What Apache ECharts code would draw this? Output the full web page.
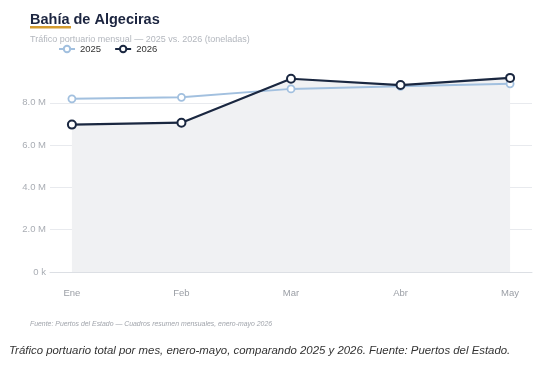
<!DOCTYPE html>
<html>
<head>
<meta charset="utf-8">
<script src="https://cdn.jsdelivr.net/npm/echarts@6/dist/echarts.min.js"></script>
<style>
  html, body { margin: 0; padding: 0; background: #fff; }
  #chart { width: 557px; height: 365px; }
</style>
</head>
<body>
<div id="chart"></div>
<script>
// monthly port traffic, tonnes
const months = ['Ene', 'Feb', 'Mar', 'Abr', 'May'];
const traffic2025 = [8.19e6, 8.26e6, 8.66e6, 8.78e6, 8.9e6];
const traffic2026 = [6.97e6, 7.06e6, 9.14e6, 8.84e6, 9.18e6];

const font = '"Liberation Sans", Arial, sans-serif';

// x axis as value axis so the points sit inset from the grid edges
const toPoints = (arr) => arr.map((v, i) => [i, v]);

const chart = echarts.init(document.getElementById('chart'), null, { renderer: 'canvas' });

const option = {
  animation: false,
  textStyle: { fontFamily: font },
  title: {
    text: 'Bahía de Algeciras',
    subtext: 'Tráfico portuario mensual — 2025 vs. 2026 (toneladas)',
    left: 25,
    top: 7,
    itemGap: 8,
    textStyle: { fontSize: 14.5, fontWeight: 'bold', color: '#1c2540', fontFamily: font },
    subtextStyle: { fontSize: 9, color: '#b3b7be', fontFamily: font },
  },
  legend: {
    left: 53,
    top: 39,
    itemWidth: 16,
    itemHeight: 8,
    itemGap: 13,
    textStyle: { fontSize: 9.5, color: '#333', fontFamily: font },
    data: ['2025', '2026'],
  },
  grid: { left: 50, right: 25, top: 69, bottom: 93 },
  xAxis: {
    type: 'value',
    min: -0.2,
    max: 4.2,
    offset: 10,
    axisLine: { show: true, lineStyle: { color: '#dcdfe4', width: 1 } },
    axisTick: { show: false },
    splitLine: { show: false },
    axisLabel: {
      color: '#9a9ea5',
      fontSize: 9.5,
      margin: 6,
      customValues: [0, 1, 2, 3, 4],
      formatter: (v) => months[Math.round(v)] || '',
    },
  },
  yAxis: {
    type: 'value',
    min: 0,
    max: 9.6e6,
    interval: 2e6,
    axisLine: { show: false },
    axisTick: { show: false },
    splitLine: { showMaxLine: false, lineStyle: { color: '#e8eaee', width: 1 } },
    axisLabel: {
      color: '#a9adb4',
      fontSize: 9.5,
      margin: 4,
      showMaxLabel: false,
      formatter: (v) => (v === 0 ? '0 k' : (v / 1e6).toFixed(1) + ' M'),
    },
  },
  series: [
    {
      // grey fill under the 2026 line, kept below both lines
      name: 'area2026',
      type: 'line',
      data: toPoints(traffic2026),
      symbol: 'none',
      lineStyle: { width: 0, opacity: 0 },
      areaStyle: { color: '#f0f1f3', opacity: 1 },
      silent: true,
      z: 1,
    },
    {
      name: '2025',
      type: 'line',
      data: toPoints(traffic2025),
      symbol: 'circle',
      symbolSize: 7,
      lineStyle: { color: '#a2c0df', width: 2 },
      itemStyle: { color: '#fff', borderColor: '#a2c0df', borderWidth: 1.8 },
      z: 3,
    },
    {
      name: '2026',
      type: 'line',
      data: toPoints(traffic2026),
      symbol: 'circle',
      symbolSize: 8,
      lineStyle: { color: '#1a2740', width: 2.2 },
      itemStyle: { color: '#fff', borderColor: '#1a2740', borderWidth: 2 },
      z: 4,
    },
  ],
  graphic: [
    {
      type: 'rect',
      left: 30,
      top: 26,
      shape: { width: 41, height: 2.5 },
      style: { fill: '#d49b2f' },
    },
    {
      type: 'text',
      left: 30,
      top: 321,
      style: {
        text: 'Fuente: Puertos del Estado — Cuadros resumen mensuales, enero-mayo 2026',
        font: 'italic 6.9px ' + font,
        fill: '#a0a4ab',
      },
    },
    {
      type: 'text',
      left: 9,
      top: 345,
      style: {
        text: 'Tráfico portuario total por mes, enero-mayo, comparando 2025 y 2026. Fuente: Puertos del Estado.',
        font: 'italic 11.4px ' + font,
        fill: '#333',
      },
    },
  ],
};

chart.setOption(option);
</script>
</body>
</html>
